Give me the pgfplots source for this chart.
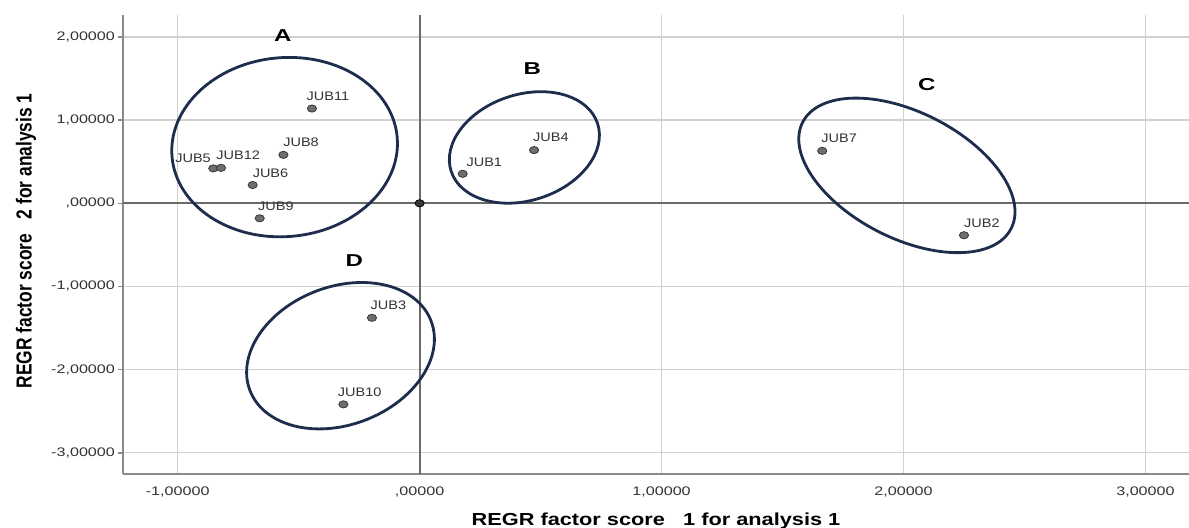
\documentclass[border=0pt]{standalone}
\usepackage{pgfplots}
\pgfplotsset{compat=1.18}
\usepackage{pgfplotstable}
\usepackage{fontspec}
\setmainfont{Liberation Sans}
\definecolor{ellcol}{HTML}{1E2D4E}
\definecolor{gridc}{HTML}{D0D0D0}
\definecolor{zeroc}{HTML}{6A6A6A}
\definecolor{spinec}{HTML}{8A8A8A}
\definecolor{dotfill}{HTML}{6E6E6E}
\definecolor{dotdraw}{HTML}{383838}
\definecolor{tickc}{HTML}{333333}

\pgfplotstableread{
x y label dx dy
-0.445 1.140 JUB11 -2.85 6.3
-0.563 0.583 JUB8 -0.3 6.2
-0.853 0.420 JUB5 -19.2 5.0
-0.821 0.427 JUB12 -2.5 6.3
-0.690 0.220 JUB6 -0.2 6.1
-0.661 -0.180 JUB9 -1.0 5.8
0.178 0.355 JUB1 1.7 6.0
0.473 0.640 JUB4 -0.7 6.3
1.664 0.631 JUB7 -0.65 6.2
2.250 -0.384 JUB2 -0.15 6.0
-0.197 -1.377 JUB3 -0.85 6.1
-0.315 -2.418 JUB10 -3.0 6.0
}\pts

\begin{document}
\begin{tikzpicture}
\begin{axis}[
  at={(0,0)}, anchor=south west,
  scale only axis, width=533pt, height=229.5pt,
  xmin=-1.226, xmax=3.18, ymin=-3.256, ymax=2.265,
  axis x line*=bottom, axis y line*=left,
  axis line style={draw=spinec, line width=1pt, -},
  xtick={-1,0,1,2,3},
  xticklabels={{-1,00000},{,00000},{1,00000},{2,00000},{3,00000}},
  ytick={-3,-2,-1,0,1,2},
  yticklabels={{-3,00000},{-2,00000},{-1,00000},{,00000},{1,00000},{2,00000}},
  grid=major, major grid style={draw=gridc, line width=0.7pt},
  tick align=outside, major tick length=2.5pt,
  xtick style={draw=none}, ytick style={draw=spinec, line width=0.8pt},
  extra x ticks={0}, extra x tick labels={},
  extra x tick style={grid=major, major grid style={draw=zeroc, line width=1.1pt}, tick style={draw=none}},
  extra y ticks={0}, extra y tick labels={},
  extra y tick style={grid=major, major grid style={draw=zeroc, line width=1.1pt}, tick style={draw=none}},
  xticklabel style={font=\fontsize{6.2}{7}\selectfont, text=tickc, xscale=1.3, anchor=north, inner sep=0pt, yshift=-3.5pt},
  yticklabel style={font=\fontsize{6.2}{7}\selectfont, text=tickc, xscale=1.3, anchor=east, inner sep=0pt, xshift=-1pt},
  xlabel={REGR factor score\ \ \ 1 for analysis 1},
  ylabel={REGR factor score\ \ \ 2 for analysis 1},
  xlabel style={font=\bfseries\fontsize{8.7}{10}\selectfont, at={(axis description cs:0.5,0)}, anchor=base, yshift=-25.75pt, xscale=1.25, inner sep=0pt},
  ylabel style={font=\bfseries\fontsize{8.7}{10}\selectfont, at={(axis description cs:-0.0857,0.508)}, anchor=base, rotate=0, yscale=1.25, inner sep=0pt},
  clip=false,
]
\addplot[only marks, mark=*, mark size=1.8pt,
  mark options={fill=dotfill, draw=dotdraw, line width=0.4pt, xscale=1.28},
  point meta=explicit symbolic,
  visualization depends on={\thisrow{dx}\as\dx},
  visualization depends on={\thisrow{dy}\as\dy},
  nodes near coords,
  every node near coord/.style={anchor=west, inner sep=0pt, font=\fontsize{6.2}{7}\selectfont, text=tickc, xshift=\dx pt, yshift=\dy pt, xscale=1.17},
] table[x=x, y=y, meta=label] {\pts};
\addplot[only marks, mark=*, mark size=1.8pt,
  mark options={fill=dotdraw, draw=black, line width=0.4pt, xscale=1.28}]
  coordinates {(0,0)};

\draw[ellcol, line width=1.4pt, rotate around={5:(axis cs:-0.558,0.676)}] (axis cs:-0.558,0.676) ellipse [x radius=56.5pt, y radius=44.75pt];
\draw[ellcol, line width=1.4pt, rotate around={18:(axis cs:0.433,0.672)}] (axis cs:0.433,0.672) ellipse [x radius=38.5pt, y radius=26.5pt];
\draw[ellcol, line width=1.4pt, rotate around={-27:(axis cs:2.014,0.336)}] (axis cs:2.014,0.336) ellipse [x radius=58.5pt, y radius=31.5pt];
\draw[ellcol, line width=1.4pt, rotate around={21:(axis cs:-0.327,-1.833)}] (axis cs:-0.327,-1.833) ellipse [x radius=48.5pt, y radius=34.5pt];

\node[font=\bfseries\fontsize{8.6}{10}\selectfont, xscale=1.4, inner sep=0pt] at (axis cs:-0.565,2.02) {A};
\node[font=\bfseries\fontsize{8.6}{10}\selectfont, xscale=1.4, inner sep=0pt] at (axis cs:0.466,1.62) {B};
\node[font=\bfseries\fontsize{8.6}{10}\selectfont, xscale=1.4, inner sep=0pt] at (axis cs:2.096,1.432) {C};
\node[font=\bfseries\fontsize{8.6}{10}\selectfont, xscale=1.4, inner sep=0pt] at (axis cs:-0.270,-0.694) {D};
\end{axis}
\pgfresetboundingbox
\path[use as bounding box] (-61.5pt,-26.5pt) rectangle (533pt,237pt);
\end{tikzpicture}
\end{document}
